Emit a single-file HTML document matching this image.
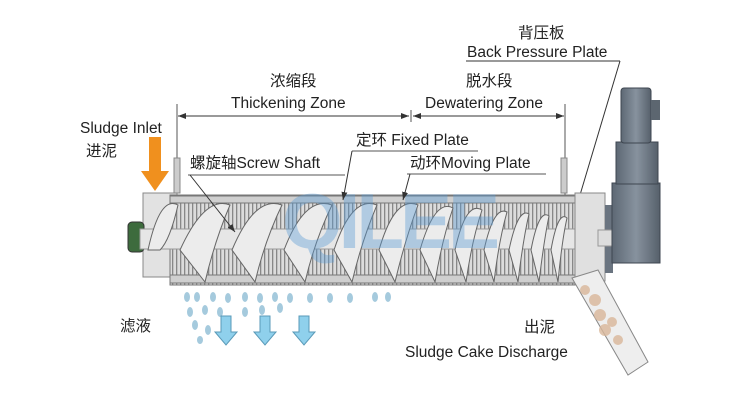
<!DOCTYPE html>
<html><head><meta charset="utf-8"><style>
html,body{margin:0;padding:0;background:#fff;}
svg{display:block}
text{font-family:"Liberation Sans","Noto Sans CJK SC",sans-serif;fill:#222;font-size:15.5px}
</style></head><body>
<svg width="750" height="400" viewBox="0 0 750 400" xmlns="http://www.w3.org/2000/svg">
<defs>
<pattern id="vl" x="0" y="0" width="4" height="10" patternUnits="userSpaceOnUse">
<rect width="4" height="10" fill="#dcdcdc"/><rect x="0" width="1.3" height="10" fill="#888"/>
</pattern>
<marker id="ar" markerWidth="8" markerHeight="6" refX="8" refY="3" orient="auto"><path d="M0,0 L8,3 L0,6z" fill="#333"/></marker>
<marker id="al" markerWidth="8" markerHeight="6" refX="0" refY="3" orient="auto"><path d="M8,0 L0,3 L8,6z" fill="#333"/></marker>
<linearGradient id="gb" x1="0" x2="1"><stop offset="0" stop-color="#5d6874"/><stop offset=".5" stop-color="#87929e"/><stop offset="1" stop-color="#56606b"/></linearGradient>
</defs>

<text x="518" y="38">背压板</text>
<text x="467" y="57">Back Pressure Plate</text>
<line x1="466" y1="61" x2="620" y2="61" stroke="#333"/>
<line x1="620" y1="61" x2="577" y2="205" stroke="#333"/>
<text x="270" y="86">浓缩段</text>
<text x="231" y="108">Thickening Zone</text>
<text x="466" y="86">脱水段</text>
<text x="425" y="108">Dewatering Zone</text>
<line x1="177" y1="104" x2="177" y2="195" stroke="#555"/>
<line x1="565" y1="104" x2="565" y2="195" stroke="#555"/>
<line x1="411" y1="110" x2="411" y2="122" stroke="#555"/>
<line x1="178" y1="116" x2="409" y2="116" stroke="#333" marker-start="url(#al)" marker-end="url(#ar)"/>
<line x1="413" y1="116" x2="564" y2="116" stroke="#333" marker-start="url(#al)" marker-end="url(#ar)"/>

<text x="80" y="133">Sludge Inlet</text>
<text x="86" y="156">进泥</text>
<path d="M149,137 h12 v34 h8 l-14,20 l-14,-20 h8z" fill="#f0901e"/>

<rect x="174" y="158" width="6" height="35" fill="#ccc" stroke="#888"/>
<rect x="561" y="158" width="6" height="35" fill="#ccc" stroke="#888"/>
<rect x="143" y="193" width="34" height="84" fill="#e2e2e2" stroke="#888"/>
<rect x="128" y="222" width="16" height="30" rx="4" fill="#3d6b3d" stroke="#333"/>
<rect x="170" y="195" width="405" height="90" fill="url(#vl)" stroke="#777"/>
<rect x="170" y="196" width="405" height="7" fill="#cfcfcf" stroke="#777"/>
<rect x="170" y="275" width="405" height="8" fill="#cfcfcf" stroke="#777"/>
<rect x="140" y="229" width="460" height="20" fill="#e6e6e6" stroke="#999"/>
<g fill="#ececec" stroke="#666" stroke-width="1">
<path d="M148,250 Q160,195 178,205 Q170,240 160,250z"/>
<path d="M180,250 Q205,195 230,205 Q215,240 205,282z"/>
<path d="M232,250 Q255,195 282,205 Q265,240 255,282z"/>
<path d="M284,250 Q305,195 332,205 Q315,240 305,282z"/>
<path d="M334,250 Q352,195 377,205 Q362,240 352,282z"/>
<path d="M379,250 Q395,195 418,205 Q405,240 395,282z"/>
<path d="M420,250 Q435,198 453,208 Q442,240 435,282z"/>
<path d="M455,250 Q466,200 482,210 Q472,240 466,282z"/>
<path d="M484,250 Q494,205 507,212 Q499,240 494,282z"/>
<path d="M509,250 Q518,207 529,214 Q523,240 518,282z"/>
<path d="M531,250 Q539,208 549,216 Q544,240 539,282z"/>
<path d="M551,250 Q558,210 567,218 Q562,240 558,282z"/>
</g>
<rect x="575" y="193" width="30" height="88" fill="#e0e0e0" stroke="#888"/>
<rect x="605" y="205" width="8" height="68" fill="#6a7480"/>
<rect x="598" y="230" width="14" height="16" fill="#ddd" stroke="#999"/>
<rect x="612" y="183" width="48" height="80" fill="url(#gb)" stroke="#3e4650"/>
<rect x="616" y="142" width="42" height="42" fill="url(#gb)" stroke="#3e4650"/>
<rect x="621" y="88" width="30" height="55" rx="3" fill="url(#gb)" stroke="#3e4650"/>
<rect x="651" y="100" width="9" height="20" fill="#5c6670"/>

<text x="282" y="248" style="font-size:78px;font-weight:bold;fill:#5b9bd5;fill-opacity:.4;letter-spacing:-4px">QILEE</text>

<text x="190" y="168">螺旋轴Screw Shaft</text>
<line x1="188" y1="175" x2="345" y2="175" stroke="#555"/>
<line x1="190" y1="175" x2="235" y2="232" stroke="#333" marker-end="url(#ar)"/>
<text x="356" y="145">定环 Fixed Plate</text>
<line x1="352" y1="151" x2="478" y2="151" stroke="#555"/>
<line x1="352" y1="151" x2="343" y2="200" stroke="#333" marker-end="url(#ar)"/>
<text x="410" y="168">动环Moving Plate</text>
<line x1="407" y1="174" x2="546" y2="174" stroke="#555"/>
<line x1="410" y1="174" x2="403" y2="200" stroke="#333" marker-end="url(#ar)"/>

<path d="M572,278 L598,270 L648,362 L628,375z" fill="#eee" stroke="#888"/>
<g fill="#d9b79a" opacity=".8"><circle cx="585" cy="290" r="5"/><circle cx="595" cy="300" r="6"/><circle cx="600" cy="315" r="6"/><circle cx="612" cy="322" r="5"/><circle cx="605" cy="330" r="6"/><circle cx="618" cy="340" r="5"/></g>
<text x="524" y="332">出泥</text>
<text x="405" y="357">Sludge Cake Discharge</text>

<text x="120" y="331">滤液</text>
<g fill="#7fb4cf" opacity=".7">
<ellipse cx="187" cy="297" rx="3" ry="5"/><ellipse cx="197" cy="297" rx="3" ry="5"/><ellipse cx="213" cy="297" rx="3" ry="5"/><ellipse cx="228" cy="298" rx="3" ry="5"/><ellipse cx="245" cy="297" rx="3" ry="5"/><ellipse cx="260" cy="298" rx="3" ry="5"/><ellipse cx="275" cy="297" rx="3" ry="5"/><ellipse cx="290" cy="298" rx="3" ry="5"/><ellipse cx="310" cy="298" rx="3" ry="5"/><ellipse cx="330" cy="298" rx="3" ry="5"/><ellipse cx="350" cy="298" rx="3" ry="5"/><ellipse cx="375" cy="297" rx="3" ry="5"/><ellipse cx="388" cy="297" rx="3" ry="5"/>
<ellipse cx="190" cy="312" rx="3" ry="5"/><ellipse cx="205" cy="310" rx="3" ry="5"/><ellipse cx="220" cy="312" rx="3" ry="5"/><ellipse cx="245" cy="312" rx="3" ry="5"/><ellipse cx="262" cy="310" rx="3" ry="5"/><ellipse cx="280" cy="308" rx="3" ry="5"/>
<ellipse cx="195" cy="325" rx="3" ry="5"/><ellipse cx="208" cy="330" rx="3" ry="5"/><ellipse cx="200" cy="340" rx="3" ry="4"/>
</g>
<g fill="#8fd0ec" stroke="#5a9ab8">
<path d="M221,316 h10 v16 h6 l-11,13 l-11,-13 h6z"/>
<path d="M260,316 h10 v16 h6 l-11,13 l-11,-13 h6z"/>
<path d="M299,316 h10 v16 h6 l-11,13 l-11,-13 h6z"/>
</g>
</svg>
</body></html>
